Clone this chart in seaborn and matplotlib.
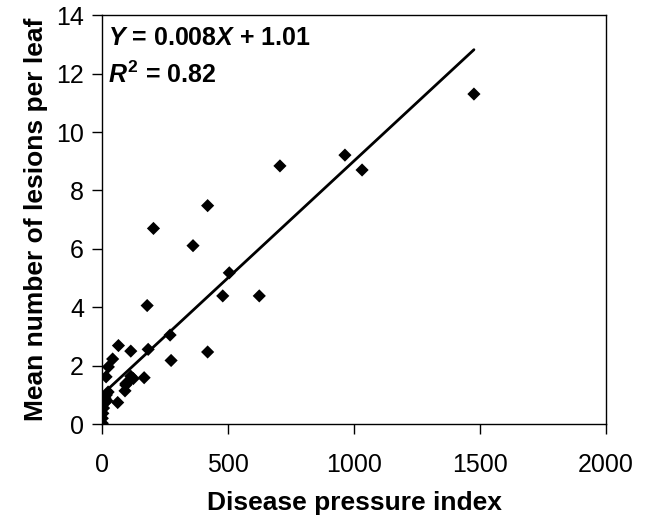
import numpy as np
import pandas as pd
import matplotlib
matplotlib.use("Agg")
import matplotlib.pyplot as plt
import seaborn as sns

# -----------------------------
# Data
# -----------------------------
pressure = [1476, 964, 1032, 706, 419, 204, 361, 505, 479, 624,
            179, 270, 183, 419, 274, 65, 114, 42, 25, 16,
            114, 124, 167, 95, 91, 62, 100, 94,
            1, 1, 3, 6, 9, 12, 17, 24, 19]
lesions = [11.3, 9.21, 8.7, 8.84, 7.48, 6.70, 6.11, 5.18, 4.39, 4.39,
           4.06, 3.05, 2.56, 2.47, 2.18, 2.69, 2.50, 2.23, 1.96, 1.62,
           1.64, 1.56, 1.59, 1.39, 1.14, 0.74, 1.41, 1.34,
           0.03, 0.2, 0.37, 0.55, 0.72, 0.89, 1.0, 1.1, 0.8]

slope = 0.008
intercept = 1.01
fit_x = [0, 1476]

df = pd.DataFrame({"pressure": pressure, "lesions": lesions})
fit = pd.DataFrame({"x": fit_x})
fit["y"] = slope * fit["x"] + intercept

# -----------------------------
# Style
# -----------------------------
sns.set_style("ticks")
plt.rcParams["font.family"] = ["Liberation Sans", "DejaVu Sans"]
plt.rcParams["text.color"] = "black"
plt.rcParams["axes.labelcolor"] = "black"
plt.rcParams["mathtext.fontset"] = "custom"
plt.rcParams["mathtext.rm"] = "Liberation Sans:bold"
plt.rcParams["mathtext.it"] = "Liberation Sans:italic:bold"
plt.rcParams["mathtext.bf"] = "Liberation Sans:bold"

fig = plt.figure(figsize=(6.46, 5.23), dpi=100)
ax = fig.add_axes([0.158, 0.189, 0.78, 0.782])

sns.scatterplot(data=df, x="pressure", y="lesions", marker="D", s=45,
                color="black", edgecolor="none", ax=ax, zorder=3)
sns.lineplot(data=fit, x="x", y="y", color="black", linewidth=2, ax=ax)

ax.set_xlim(0, 2000)
ax.set_ylim(0, 14)
ax.set_xticks([0, 500, 1000, 1500, 2000])
ax.set_yticks(range(0, 15, 2))
ax.tick_params(direction="out", length=7, width=1, color="black",
               labelsize=18, labelcolor="black")
ax.tick_params(axis="x", pad=14)
ax.tick_params(axis="y", pad=6)

for side in ["top", "right", "left", "bottom"]:
    ax.spines[side].set_visible(True)
    ax.spines[side].set_color("black")
    ax.spines[side].set_linewidth(1)

ax.set_xlabel("Disease pressure index", fontsize=19, fontweight="bold", labelpad=10)
ax.set_ylabel("Mean number of lesions per leaf", fontsize=19, fontweight="bold", labelpad=6)

ax.text(0.012, 0.927, r"$Y$ = 0.008$X$ + 1.01", transform=ax.transAxes,
        fontsize=18, fontweight="bold", va="baseline", ha="left")
ax.text(0.012, 0.833, r"$R^2$ = 0.82", transform=ax.transAxes,
        fontsize=18, fontweight="bold", va="baseline", ha="left")

fig.savefig("out.png", dpi=100)
plt.close()
